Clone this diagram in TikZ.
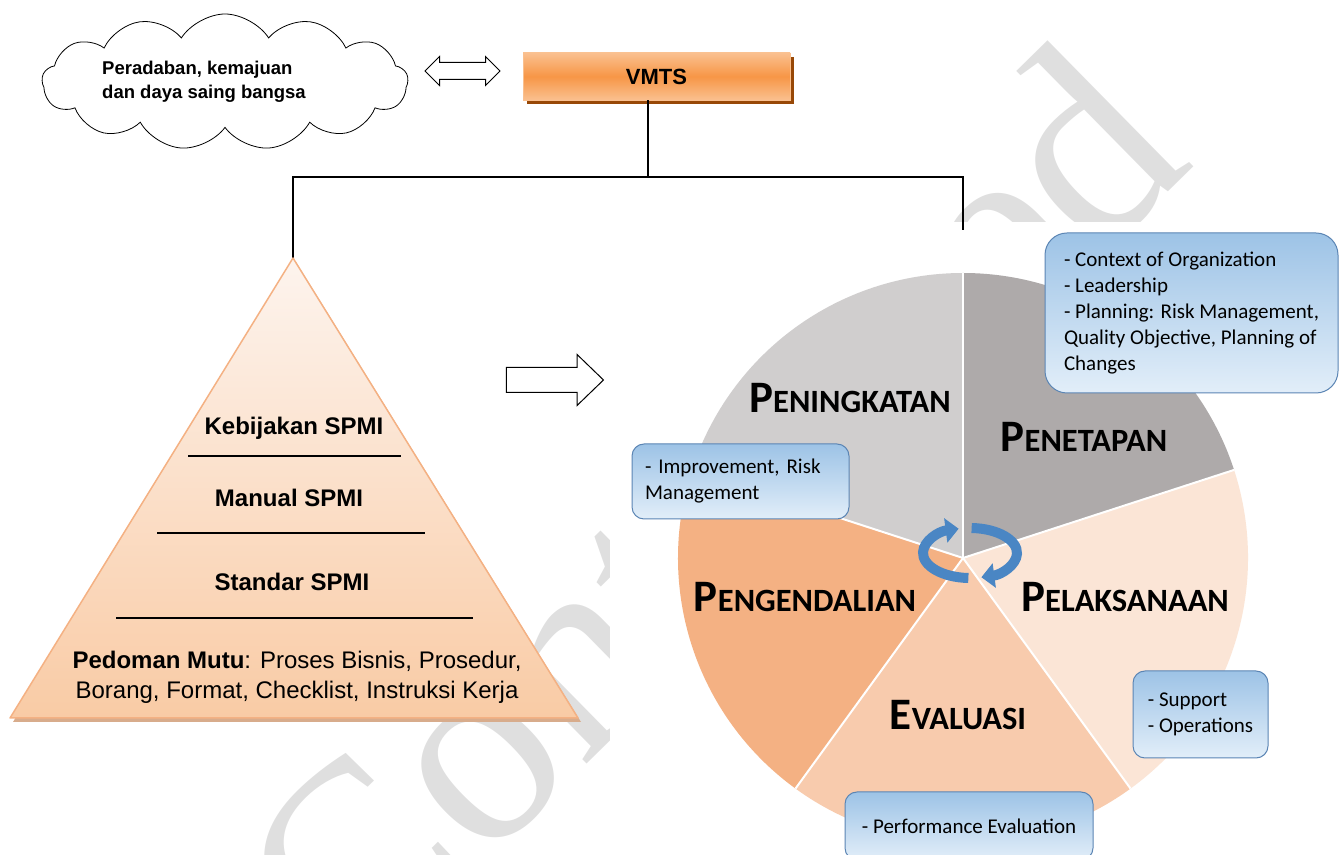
\documentclass[tikz,border=0pt]{standalone}
\usepackage{fontspec}
\setmainfont{Liberation Sans}
\newfontfamily\calib{Carlito}
\newfontfamily\wmserif{Liberation Serif}
\usetikzlibrary{shapes.symbols,shapes.arrows,arrows.meta,shadows}

\definecolor{penetapan}{HTML}{AEAAAA}
\definecolor{peningkatan}{HTML}{D0CECE}
\definecolor{pelaksanaan}{HTML}{FBE5D6}
\definecolor{evaluasi}{HTML}{F8CBAD}
\definecolor{pengendalian}{HTML}{F4B183}
\definecolor{notetop}{HTML}{9DC3E6}
\definecolor{notebot}{HTML}{E2EEF9}
\definecolor{noteline}{HTML}{5B85B4}
\definecolor{cycblue}{HTML}{4A86C4}
\definecolor{pyrtop}{HTML}{FDF4EE}
\definecolor{pyrbot}{HTML}{F9CBA5}
\definecolor{pyrline}{HTML}{F4B183}
\definecolor{pyrshadow}{HTML}{D8AC8C}
\definecolor{vmtstop}{HTML}{FAC08F}
\definecolor{vmtsmid}{HTML}{F79646}
\definecolor{vmtsshadow}{HTML}{984807}
\definecolor{wmgray}{HTML}{DFDFDF}

\newcommand{\scaps}[2]{{\fontsize{45}{45}\selectfont #1}{\fontsize{32.5}{32.5}\selectfont #2}}

\tikzset{
  wmark/.style={font=\wmserif\fontsize{277}{277}\selectfont, text=wmgray, rotate=44.5, anchor=base},
  cloudbox/.style={cloud, draw, fill=white, line width=0.8pt, cloud puffs=13, cloud puff arc=115, aspect=2.7},
  hollowarrow/.style={draw, fill=white, line width=1pt, inner xsep=0pt},
  vmtsbox/.style={draw=vmtstop, top color=vmtstop, bottom color=vmtstop, middle color=vmtsmid,
    drop shadow={shadow xshift=4pt, shadow yshift=-4pt, fill=vmtsshadow, opacity=1},
    minimum width=267pt, minimum height=47pt, font=\bfseries\fontsize{22}{22}\selectfont},
  conn/.style={line width=1.6pt},
  pyrtext/.style={font=\fontsize{24}{30}\selectfont, align=center},
  note/.style={draw=noteline, line width=1pt, rounded corners=12pt, top color=notetop, bottom color=notebot,
    align=left, font=\calib\fontsize{21}{26}\selectfont},
  slicelabel/.style={font=\calib\bfseries, anchor=base},
  cycarrow/.style={cycblue, line width=10pt, -{Triangle[width=24pt,length=13pt]}},
}

\begin{document}
\begin{tikzpicture}[x=1pt, y=1pt]
  \useasboundingbox (0,0) rectangle (1341,854);

  % Watermark, hidden behind the pie area
  \node[wmark] (wm) at (774,274) {Controlled};
  \fill[white] (610,0) rectangle (1341,632);

  % Cloud, double arrow and VMTS
  \node[cloudbox, minimum width=366pt, minimum height=136pt] (cloud) at (225,772) {};
  \node[font=\bfseries\fontsize{18.5}{24}\selectfont, align=left] (cloudtext) at ([xshift=-21pt]cloud.center) {Peradaban, kemajuan\\dan daya saing bangsa};
  \node[double arrow, hollowarrow, inner ysep=8pt, double arrow head extend=6pt,
    double arrow tip angle=90, minimum height=75pt] (link) at (462.5,783) {};
  \node[vmtsbox] (vmts) at (656.5,777.5) {VMTS};

  % Tree lines
  \coordinate (bar) at (648,677);
  \coordinate (apex) at (293,596);
  \coordinate (pietop) at (963,624);
  \draw[conn] (vmts.south -| bar) -- (bar);
  \draw[conn] (apex) -- (apex |- bar) -- (pietop |- bar) -- (pietop);

  % Pyramid
  \coordinate (baseL) at (10,136);
  \coordinate (baseR) at (578,136);
  \fill[pyrshadow] ([shift={(3,-4)}]apex) -- ([shift={(3,-4)}]baseR) -- ([shift={(3,-4)}]baseL) -- cycle;
  \shade[top color=pyrtop, bottom color=pyrbot] (apex) -- (baseR) -- (baseL) -- cycle;
  \draw[pyrline, line width=1.5pt, line join=round] (apex) -- (baseR) -- (baseL) -- cycle;
  \draw[line width=2pt] (188,398) -- (401,398);
  \draw[line width=2pt] (157,321) -- (425,321);
  \draw[line width=2pt] (116,236) -- (473,236);
  \node[pyrtext, font=\bfseries\fontsize{24}{30}\selectfont] (kebijakan) at (294,426) {Kebijakan SPMI};
  \node[pyrtext, font=\bfseries\fontsize{24}{30}\selectfont] (manual) at (289,356) {Manual SPMI};
  \node[pyrtext, font=\bfseries\fontsize{24}{30}\selectfont] (standar) at (292,272) {Standar SPMI};
  \node[pyrtext] (pedoman) at (297,177) {\textbf{Pedoman Mutu}: Proses Bisnis, Prosedur,\\Borang, Format, Checklist, Instruksi Kerja};

  % Arrow to the cycle
  \node[single arrow, hollowarrow, inner ysep=12pt, single arrow head extend=13pt,
    single arrow tip angle=88, minimum height=97pt] (toward) at (548.5,474) {};

  % Pie of the five stages
  \coordinate (pie) at (963,296);
  \foreach \from/\to/\col in {18/90/penetapan, -54/18/pelaksanaan, -126/-54/evaluasi,
      -198/-126/pengendalian, 90/162/peningkatan}
    \fill[\col] (pie) -- ++(\from:285) arc[start angle=\from, end angle=\to, radius=285] -- cycle;
  \foreach \a in {90,18,-54,-126,162}
    \draw[white, line width=2pt] (pie) -- ++(\a:285);

  % Cycle arrows
  \coordinate (cyc) at (970,301);
  \draw[cycarrow] (cyc) ++(88:47 and 25) arc[start angle=88, end angle=-76, x radius=47, y radius=25];
  \draw[cycarrow] (cyc) ++(-92:47 and 25) arc[start angle=-92, end angle=-256, x radius=47, y radius=25];

  % Stage names
  \node[slicelabel] (peningkatan) at (850,441) {\scaps{P}{ENINGKATAN}};
  \node[slicelabel] (penetapan) at (1084,402) {\scaps{P}{ENETAPAN}};
  \node[slicelabel] (pelaksanaan) at (1125,242) {\scaps{P}{ELAKSANAAN}};
  \node[slicelabel] (evaluasi) at (958,124) {\scaps{E}{VALUASI}};
  \node[slicelabel] (pengendalian) at (805,242) {\scaps{P}{ENGENDALIAN}};

  % Notes
  \node[note, rounded corners=22pt, minimum width=293pt, minimum height=160pt] (ctx) at (1191.5,541)
    {- Context of Organization\\- Leadership\\- Planning: Risk Management,\\Quality Objective, Planning of\\Changes};
  \node[note, text width=191pt, inner xsep=13pt, minimum height=75pt] (improve) at (740.5,372.5)
    {- Improvement, Risk\\Management};
  \node[note, minimum width=135pt, minimum height=87pt] (support) at (1200.5,139.5)
    {- Support\\- Operations};
  \node[note, minimum width=248pt, minimum height=68pt] (perf) at (969,28)
    {- Performance Evaluation};
\end{tikzpicture}
\end{document}
